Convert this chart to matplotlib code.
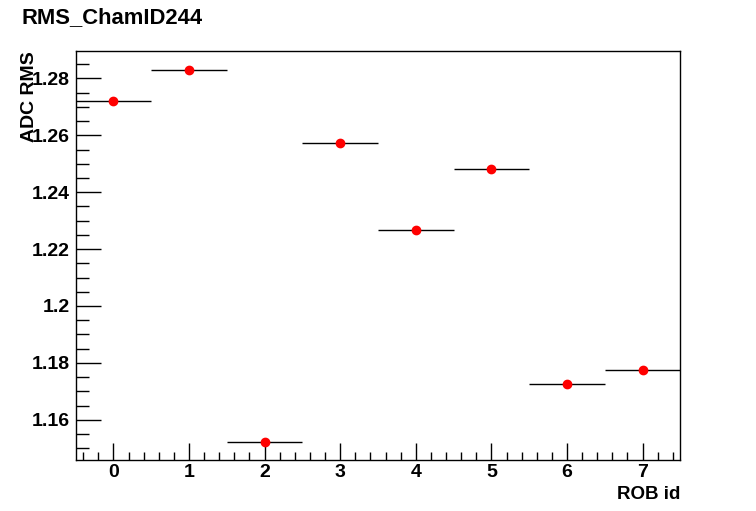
import matplotlib
matplotlib.use("Agg")
import matplotlib.pyplot as plt
from matplotlib.ticker import MultipleLocator
import numpy as np

rob_id = [0, 1, 2, 3, 4, 5, 6, 7]
adc_rms = [1.2719, 1.2828, 1.1523, 1.2572, 1.2266, 1.2481, 1.1727, 1.1776]
bin_half = 0.5

plt.rcParams['font.family'] = ['Liberation Sans', 'DejaVu Sans']
plt.rcParams['font.weight'] = 'bold'

fig = plt.figure(figsize=(7.56, 5.11), dpi=100)
ax = fig.add_axes([0.1, 0.1, 0.8, 0.8])

ax.errorbar(rob_id, adc_rms, xerr=bin_half, fmt='none', ecolor='black',
            elinewidth=1, capsize=0, zorder=2)
ax.plot(rob_id, adc_rms, 'o', color='red', markersize=6, zorder=3)

ax.set_xlim(-0.5, 7.5)
ax.set_ylim(1.1459, 1.2896)

ax.xaxis.set_major_locator(MultipleLocator(1))
ax.xaxis.set_minor_locator(MultipleLocator(0.2))
ax.yaxis.set_minor_locator(MultipleLocator(0.005))
ax.set_yticks([1.16, 1.18, 1.2, 1.22, 1.24, 1.26, 1.28])
ax.set_yticklabels(['1.16', '1.18', '1.2', '1.22', '1.24', '1.26', '1.28'])

ax.tick_params(which='both', direction='in', top=False, right=False,
               width=1, labelsize=14)
ax.tick_params(axis='x', which='major', length=12, pad=3)
ax.tick_params(axis='x', which='minor', length=6)
ax.tick_params(axis='y', which='major', length=18, pad=4)
ax.tick_params(axis='y', which='minor', length=9)
for s in ax.spines.values():
    s.set_linewidth(1)

ax.set_xlabel("ROB id", fontsize=13.5, fontweight='bold')
ax.xaxis.set_label_coords(1.0, -0.063)
ax.xaxis.label.set_horizontalalignment('right')
ax.set_ylabel("ADC RMS", fontsize=14, fontweight='bold')
ax.yaxis.set_label_coords(-0.062, 1.0)
ax.yaxis.label.set_horizontalalignment('right')

fig.text(0.029, 1 - 18 / 511, "RMS_ChamID244", fontsize=15.8, fontweight='bold',
         ha='left', va='center')

fig.savefig("out.png", dpi=100)
